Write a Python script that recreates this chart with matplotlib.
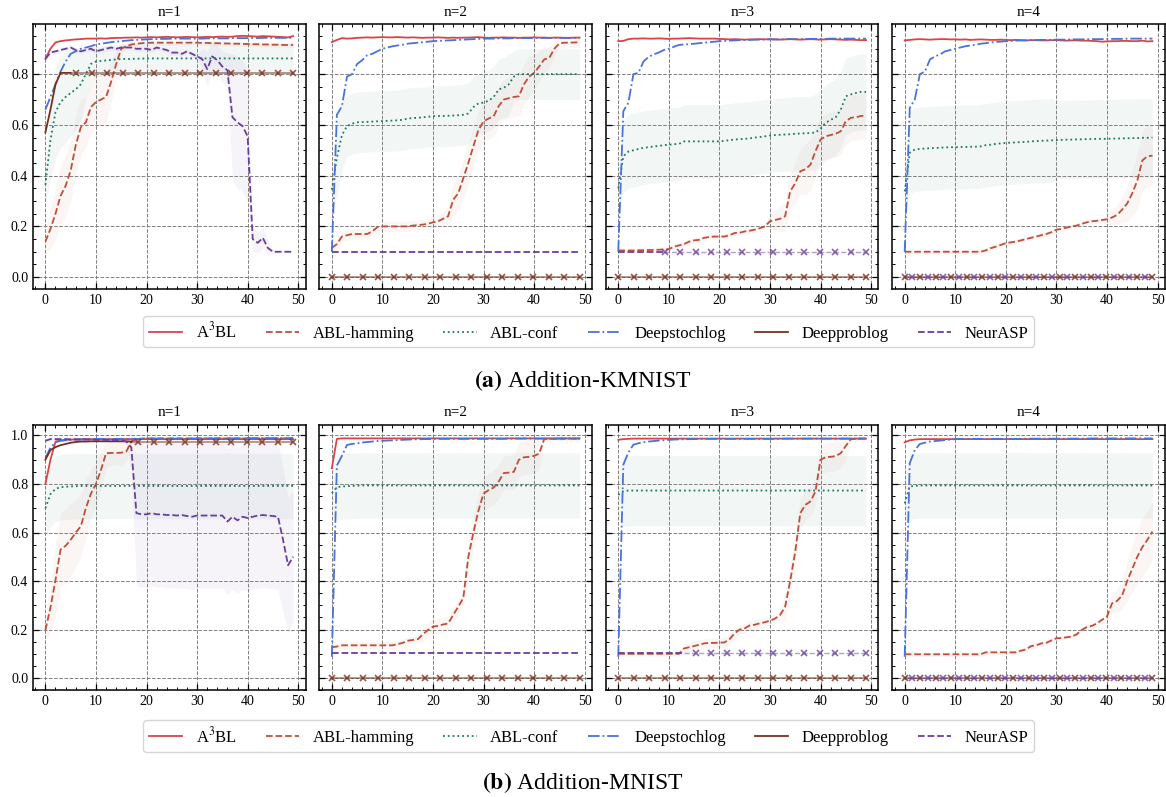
import numpy as np
import matplotlib
matplotlib.use("Agg")
import matplotlib.pyplot as plt
from matplotlib.lines import Line2D
from matplotlib.ticker import MultipleLocator, AutoMinorLocator

plt.rcParams["font.family"] = "serif"
plt.rcParams["font.serif"] = ["Liberation Serif", "DejaVu Serif"]
plt.rcParams["mathtext.fontset"] = "stix"

epochs = list(range(50))
n_values = [1, 2, 3, 4]
methods = ["A$^3$BL", "ABL-hamming", "ABL-conf", "Deepstochlog", "Deepproblog", "NeurASP"]

# ---------------- Addition-KMNIST ----------------
kmnist_n1_a3bl = [0.86, 0.90, 0.925, 0.93, 0.933, 0.935, 0.937, 0.938, 0.94, 0.94,
                  0.94, 0.941, 0.94, 0.942, 0.943, 0.943, 0.944, 0.944, 0.945, 0.944,
                  0.945, 0.946, 0.945, 0.946, 0.947, 0.946, 0.945, 0.946, 0.947, 0.946,
                  0.945, 0.946, 0.947, 0.946, 0.947, 0.948, 0.947, 0.948, 0.95, 0.951,
                  0.95, 0.949, 0.948, 0.95, 0.949, 0.948, 0.947, 0.946, 0.945, 0.95]
kmnist_n1_hamming = [0.14, 0.19, 0.25, 0.32, 0.36, 0.42, 0.52, 0.59, 0.61, 0.67,
                     0.69, 0.70, 0.71, 0.77, 0.84, 0.90, 0.91, 0.917, 0.92, 0.922,
                     0.923, 0.924, 0.924, 0.924, 0.924, 0.924, 0.924, 0.924, 0.924, 0.924,
                     0.924, 0.923, 0.923, 0.922, 0.922, 0.921, 0.921, 0.92, 0.92, 0.919,
                     0.919, 0.918, 0.918, 0.917, 0.917, 0.916, 0.916, 0.915, 0.915, 0.915]
kmnist_n1_conf = [0.364, 0.54, 0.65, 0.69, 0.71, 0.726, 0.74, 0.76, 0.80, 0.84,
                  0.85, 0.852, 0.854, 0.856, 0.858, 0.86, 0.86, 0.86, 0.861, 0.861] + [0.862] * 30
kmnist_n1_dsl = [0.66, 0.71, 0.76, 0.81, 0.85, 0.88, 0.89, 0.9, 0.905, 0.91,
                 0.917, 0.92, 0.923, 0.926, 0.928, 0.93, 0.932, 0.934, 0.935, 0.936,
                 0.937, 0.938, 0.938, 0.939, 0.939, 0.94, 0.94, 0.94, 0.94, 0.94,
                 0.94, 0.94, 0.941, 0.941, 0.941, 0.941, 0.941, 0.942, 0.942, 0.942,
                 0.942, 0.942, 0.942, 0.943, 0.943, 0.943, 0.943, 0.943, 0.943, 0.943]
kmnist_n1_dpl = [0.57, 0.66, 0.76, 0.805, 0.805, 0.805]
kmnist_n1_neurasp = [0.86, 0.885, 0.89, 0.895, 0.9, 0.905, 0.895, 0.89, 0.895, 0.9,
                     0.89, 0.895, 0.9, 0.905, 0.9, 0.905, 0.905, 0.905, 0.9, 0.9,
                     0.9, 0.895, 0.905, 0.9, 0.895, 0.885, 0.885, 0.88, 0.89, 0.88,
                     0.87, 0.86, 0.82, 0.87, 0.855, 0.83, 0.815, 0.63, 0.61, 0.595,
                     0.555, 0.15, 0.135, 0.155, 0.115, 0.1, 0.1, 0.1, 0.1, 0.1]
kmnist_n1_hamming_sd = [0.05, 0.08, 0.10, 0.12, 0.12, 0.12, 0.12, 0.11, 0.10, 0.10,
                        0.10, 0.10, 0.10, 0.08, 0.05, 0.02] + [0.01] * 34
kmnist_n1_conf_sd = [0.10, 0.15, 0.18, 0.18, 0.18, 0.17, 0.16, 0.14, 0.10, 0.07] + [0.06] * 40
kmnist_n1_neurasp_sd = [0.01] * 31 + [0.04, 0.07, 0.06, 0.06, 0.06, 0.07, 0.25, 0.26, 0.26,
                                      0.26, 0.05, 0.04, 0.04, 0.03, 0.01] + [0.005] * 4

kmnist_n2_a3bl = [0.926, 0.935, 0.942, 0.940, 0.941, 0.943, 0.944, 0.945, 0.944, 0.945,
                  0.946, 0.945, 0.945, 0.946, 0.945, 0.944, 0.945, 0.944, 0.943, 0.944,
                  0.944, 0.945, 0.944, 0.943, 0.944, 0.943, 0.944, 0.944, 0.945, 0.946,
                  0.944, 0.943, 0.944, 0.944, 0.945, 0.944, 0.944, 0.943, 0.944, 0.944,
                  0.945, 0.944, 0.944, 0.943, 0.944, 0.944, 0.943, 0.943, 0.944, 0.944]
kmnist_n2_hamming = [0.115, 0.13, 0.16, 0.165, 0.17, 0.17, 0.17, 0.17, 0.18, 0.197,
                     0.2, 0.2, 0.2, 0.2, 0.2, 0.2, 0.203, 0.205, 0.207, 0.21,
                     0.216, 0.22, 0.23, 0.24, 0.305, 0.33, 0.39, 0.45, 0.516, 0.58,
                     0.614, 0.625, 0.634, 0.674, 0.70, 0.705, 0.71, 0.713, 0.76, 0.79,
                     0.805, 0.83, 0.858, 0.864, 0.90, 0.921, 0.924, 0.924, 0.925, 0.925]
kmnist_n2_conf = [0.345, 0.47, 0.56, 0.595, 0.605, 0.61, 0.611, 0.612, 0.613, 0.614,
                  0.615, 0.616, 0.617, 0.618, 0.62, 0.625, 0.627, 0.628, 0.63, 0.632,
                  0.634, 0.635, 0.635, 0.636, 0.637, 0.638, 0.64, 0.645, 0.67, 0.685,
                  0.688, 0.695, 0.71, 0.74, 0.746, 0.76, 0.79] + [0.80] * 13
kmnist_n2_dsl = [0.10, 0.64, 0.674, 0.79, 0.80, 0.84, 0.855, 0.875, 0.88, 0.89,
                 0.90, 0.905, 0.91, 0.913, 0.916, 0.92, 0.922, 0.924, 0.926, 0.928,
                 0.93, 0.931, 0.932, 0.933, 0.934, 0.935, 0.936, 0.937, 0.938, 0.939,
                 0.94, 0.94, 0.94, 0.941, 0.941, 0.941, 0.942, 0.942, 0.942, 0.942,
                 0.942, 0.943, 0.943, 0.943, 0.943, 0.943, 0.943, 0.943, 0.943, 0.943]
kmnist_n2_dpl = [0.0]
kmnist_n2_neurasp = [0.1] * 50
kmnist_n2_hamming_sd = [0.02] * 22 + [0.03, 0.04, 0.06, 0.07, 0.08, 0.08, 0.08, 0.08, 0.08, 0.08,
                                      0.08, 0.08, 0.08, 0.08, 0.08, 0.08, 0.08, 0.08, 0.07, 0.06,
                                      0.05, 0.04, 0.03, 0.02] + [0.02] * 4
kmnist_n2_conf_sd = [0.10, 0.15, 0.14] + [0.12] * 33 + [0.10] * 14

kmnist_n3_a3bl = [0.930, 0.931, 0.938, 0.940, 0.940, 0.941, 0.940, 0.940, 0.941, 0.940,
                  0.939, 0.940, 0.940, 0.941, 0.942, 0.941, 0.940, 0.940, 0.940, 0.940,
                  0.939, 0.938, 0.937, 0.938, 0.937, 0.936, 0.937, 0.937, 0.938, 0.937,
                  0.938, 0.937, 0.936, 0.937, 0.938, 0.937, 0.936, 0.937, 0.938, 0.937,
                  0.936, 0.937, 0.938, 0.937, 0.936, 0.935, 0.936, 0.935, 0.934, 0.934]
kmnist_n3_hamming = [0.105, 0.105, 0.105, 0.105, 0.106, 0.106, 0.107, 0.107, 0.108, 0.109,
                     0.11, 0.12, 0.125, 0.13, 0.14, 0.145, 0.147, 0.155, 0.158, 0.16,
                     0.16, 0.16, 0.165, 0.174, 0.175, 0.18, 0.183, 0.187, 0.193, 0.2,
                     0.22, 0.225, 0.23, 0.24, 0.338, 0.37, 0.417, 0.425, 0.443, 0.496,
                     0.542, 0.555, 0.56, 0.565, 0.575, 0.614, 0.628, 0.63, 0.635, 0.637]
kmnist_n3_conf = [0.35, 0.476, 0.495, 0.50, 0.505, 0.51, 0.512, 0.515, 0.517, 0.52,
                  0.522, 0.524, 0.525, 0.535, 0.535, 0.535, 0.535, 0.535, 0.535, 0.535,
                  0.535, 0.537, 0.54, 0.542, 0.544, 0.545, 0.547, 0.55, 0.552, 0.555,
                  0.558, 0.56, 0.561, 0.562, 0.563, 0.565, 0.566, 0.567, 0.568, 0.57,
                  0.585, 0.608, 0.62, 0.63, 0.66, 0.713, 0.72, 0.726, 0.73, 0.73]
kmnist_n3_dsl = [0.10, 0.654, 0.687, 0.80, 0.805, 0.85, 0.868, 0.878, 0.885, 0.895,
                 0.90, 0.908, 0.915, 0.917, 0.918, 0.92, 0.922, 0.924, 0.926, 0.928,
                 0.93, 0.931, 0.932, 0.933, 0.934, 0.935, 0.935, 0.936, 0.936, 0.937,
                 0.937, 0.937, 0.937, 0.938, 0.938, 0.938, 0.938, 0.938, 0.939, 0.939,
                 0.939, 0.939, 0.94, 0.94, 0.94, 0.94, 0.94, 0.94, 0.94, 0.94]
kmnist_n3_dpl = [0.0]
kmnist_n3_neurasp = [0.1] * 10
kmnist_n3_hamming_sd = [0.01] * 30 + [0.03, 0.04, 0.05, 0.06, 0.07, 0.08, 0.09, 0.1, 0.1, 0.1] + [0.09] * 10
kmnist_n3_conf_sd = [0.10] + [0.145] * 38 + [0.15] * 11

kmnist_n4_a3bl = [0.933, 0.935, 0.937, 0.938, 0.937, 0.936, 0.937, 0.938, 0.938, 0.937,
                  0.937, 0.936, 0.937, 0.935, 0.936, 0.937, 0.936, 0.935, 0.935, 0.936,
                  0.935, 0.934, 0.935, 0.934, 0.933, 0.934, 0.934, 0.933, 0.933, 0.934,
                  0.934, 0.933, 0.932, 0.933, 0.933, 0.932, 0.932, 0.931, 0.93, 0.928,
                  0.929, 0.93, 0.93, 0.931, 0.931, 0.93, 0.93, 0.932, 0.929, 0.93]
kmnist_n4_hamming = [0.1] * 16 + [0.105, 0.114, 0.12, 0.127, 0.134, 0.137, 0.14, 0.145, 0.15, 0.155,
                                  0.16, 0.165, 0.17, 0.177, 0.187, 0.19, 0.195, 0.2, 0.203, 0.21,
                                  0.216, 0.22, 0.222, 0.225, 0.228, 0.235, 0.245, 0.266, 0.29, 0.33,
                                  0.38, 0.46, 0.476, 0.479]
kmnist_n4_conf = [0.338, 0.49, 0.503, 0.505, 0.507, 0.508, 0.509, 0.51, 0.511, 0.512,
                  0.512, 0.513, 0.513, 0.514, 0.514, 0.515, 0.52, 0.522, 0.525, 0.527,
                  0.529, 0.53, 0.531, 0.532, 0.533, 0.535, 0.536, 0.537, 0.538, 0.539,
                  0.54, 0.541, 0.542, 0.542, 0.543, 0.543, 0.544, 0.544, 0.545, 0.545,
                  0.545, 0.546, 0.546, 0.547, 0.547, 0.548, 0.548, 0.549, 0.549, 0.55]
kmnist_n4_dsl = [0.10, 0.667, 0.70, 0.80, 0.81, 0.858, 0.87, 0.878, 0.89, 0.895,
                 0.90, 0.905, 0.91, 0.913, 0.916, 0.92, 0.922, 0.925, 0.927, 0.928,
                 0.93, 0.931, 0.932, 0.933, 0.933, 0.934, 0.934, 0.935, 0.935, 0.935,
                 0.936, 0.936, 0.936, 0.937, 0.937, 0.937, 0.938, 0.938, 0.938, 0.938,
                 0.939, 0.939, 0.939, 0.939, 0.94, 0.94, 0.94, 0.94, 0.94, 0.94]
kmnist_n4_dpl = [0.0]
kmnist_n4_neurasp = [0.0]
kmnist_n4_hamming_sd = [0.01] * 40 + [0.02, 0.03, 0.04, 0.05, 0.07, 0.09, 0.11, 0.12, 0.12, 0.12]
kmnist_n4_conf_sd = [0.10] + [0.165] * 29 + [0.155] * 20

# ---------------- Addition-MNIST ----------------
mnist_n1_a3bl = [0.80, 0.90, 0.975, 0.98, 0.982, 0.983, 0.984, 0.984] + [0.985] * 42
mnist_n1_hamming = [0.198, 0.29, 0.404, 0.53, 0.545, 0.57, 0.6, 0.625, 0.70, 0.76,
                    0.80, 0.858, 0.927, 0.928, 0.928, 0.929, 0.934, 0.975, 0.985, 0.987] + [0.988] * 30
mnist_n1_conf = [0.70, 0.758, 0.78, 0.787, 0.789, 0.79, 0.791] + [0.792] * 43
mnist_n1_dsl = ([0.906, 0.95, 0.972, 0.978, 0.98, 0.982, 0.983, 0.984, 0.985, 0.985]
                + [0.986] * 10 + [0.987] * 10 + [0.988] * 10 + [0.989] * 9 + [0.99])
mnist_n1_dpl = [0.90, 0.94, 0.952, 0.96, 0.965, 0.97, 0.973, 0.975, 0.975, 0.976,
                0.976, 0.976, 0.976, 0.976, 0.976, 0.976, 0.976, 0.975]
mnist_n1_neurasp = [0.978, 0.985, 0.985, 0.985, 0.985, 0.984, 0.984, 0.983, 0.983, 0.983,
                    0.982, 0.982, 0.982, 0.981, 0.981, 0.98, 0.975, 0.95, 0.68, 0.675,
                    0.675, 0.68, 0.675, 0.675, 0.672, 0.672, 0.67, 0.672, 0.668, 0.665,
                    0.67, 0.67, 0.67, 0.67, 0.67, 0.67, 0.645, 0.665, 0.65, 0.665,
                    0.66, 0.665, 0.67, 0.672, 0.67, 0.668, 0.665, 0.57, 0.465, 0.5]
mnist_n1_hamming_sd = [0.05, 0.1, 0.15, 0.15, 0.15, 0.15, 0.14, 0.13, 0.12, 0.1,
                       0.09, 0.08, 0.06, 0.05, 0.05, 0.05, 0.04, 0.02] + [0.008] * 32
mnist_n1_conf_sd = [0.12] + [0.135] * 49
mnist_n1_neurasp_sd = [0.01] * 17 + [0.1] + [0.3] * 29 + [0.3, 0.28, 0.27]

mnist_n2_a3bl = [0.865, 0.986] + [0.988] * 48
mnist_n2_hamming = ([0.127, 0.13] + [0.135] * 11
                    + [0.14, 0.145, 0.154, 0.157, 0.16, 0.18, 0.198, 0.212, 0.215, 0.221,
                       0.225, 0.26, 0.294, 0.33, 0.5, 0.6, 0.69, 0.76, 0.775, 0.785,
                       0.81, 0.845, 0.847, 0.85, 0.9, 0.91, 0.912, 0.916, 0.925]
                    + [0.985, 0.986, 0.986] + [0.987] * 5)
mnist_n2_conf = [0.762, 0.787, 0.79, 0.791, 0.792, 0.793] + [0.794] * 44
mnist_n2_dsl = ([0.088, 0.876, 0.916, 0.961, 0.965, 0.968, 0.971, 0.973, 0.975, 0.977,
                 0.978, 0.979, 0.98, 0.981, 0.982, 0.983, 0.984, 0.984, 0.985, 0.985]
                + [0.986] * 15 + [0.987] * 15)
mnist_n2_dpl = [0.0]
mnist_n2_neurasp = [0.102] * 50
mnist_n2_hamming_sd = [0.015] * 18 + [0.03] * 9 + [0.07] * 15 + [0.01] * 8
mnist_n2_conf_sd = [0.10] + [0.135] * 49

mnist_n3_a3bl = [0.982, 0.985, 0.986] + [0.987] * 47
mnist_n3_hamming = [0.1] * 13 + [0.122, 0.127, 0.132, 0.137, 0.143, 0.145, 0.145, 0.146, 0.147, 0.16,
                                 0.184, 0.2, 0.205, 0.217, 0.22, 0.226, 0.23, 0.237, 0.245, 0.26,
                                 0.294, 0.4, 0.52, 0.68, 0.714, 0.728, 0.769, 0.9, 0.91, 0.912,
                                 0.915, 0.927, 0.957, 0.985, 0.986, 0.987, 0.987]
mnist_n3_conf = [0.755, 0.77] + [0.773] * 48
mnist_n3_dsl = ([0.088, 0.879, 0.93, 0.962, 0.968, 0.972, 0.975, 0.977, 0.979, 0.98,
                 0.982, 0.983, 0.984, 0.984, 0.985, 0.985] + [0.986] * 17 + [0.987] * 17)
mnist_n3_dpl = [0.0]
mnist_n3_neurasp = [0.102] * 14
mnist_n3_hamming_sd = [0.01] * 13 + [0.02] * 20 + [0.06] * 13 + [0.01] * 4
mnist_n3_conf_sd = [0.10] + [0.145] * 49

mnist_n4_a3bl = [0.972, 0.98, 0.983] + [0.985] * 47
mnist_n4_hamming = [0.098] * 16 + [0.106] * 7 + [0.113, 0.118, 0.132, 0.135, 0.143, 0.145, 0.155, 0.164,
                                                 0.165, 0.168, 0.171, 0.18, 0.198, 0.21, 0.215, 0.225,
                                                 0.24, 0.253, 0.308, 0.318, 0.34, 0.4, 0.45, 0.5,
                                                 0.54, 0.57, 0.604]
mnist_n4_conf = [0.72, 0.79, 0.792] + [0.794] * 47
mnist_n4_dsl = ([0.088, 0.886, 0.94, 0.965, 0.97, 0.975, 0.977, 0.979, 0.981, 0.983, 0.985]
                + [0.986] * 13 + [0.987] * 13 + [0.988] * 13)
mnist_n4_dpl = [0.0]
mnist_n4_neurasp = [0.0]
mnist_n4_hamming_sd = [0.01] * 40 + [0.03, 0.04, 0.05, 0.06, 0.08, 0.1, 0.11, 0.12, 0.12, 0.12]
mnist_n4_conf_sd = [0.10] + [0.135] * 49

# ---------------- styles ----------------
colors = {"A$^3$BL": "#d94545", "ABL-hamming": "#bf4f3a", "ABL-conf": "#1b7a63",
          "Deepstochlog": "#4872dc", "Deepproblog": "#76301c", "NeurASP": "#6a3f9c"}
styles = {"A$^3$BL": "-", "ABL-hamming": "--", "ABL-conf": ":",
          "Deepstochlog": "-.", "Deepproblog": "-", "NeurASP": "--"}

rows = [
    ("(a)", "Addition-KMNIST", (-0.048, 0.998), [
        (kmnist_n1_a3bl, kmnist_n1_hamming, kmnist_n1_conf, kmnist_n1_dsl, kmnist_n1_dpl, kmnist_n1_neurasp,
         kmnist_n1_hamming_sd, kmnist_n1_conf_sd, kmnist_n1_neurasp_sd),
        (kmnist_n2_a3bl, kmnist_n2_hamming, kmnist_n2_conf, kmnist_n2_dsl, kmnist_n2_dpl, kmnist_n2_neurasp,
         kmnist_n2_hamming_sd, kmnist_n2_conf_sd, None),
        (kmnist_n3_a3bl, kmnist_n3_hamming, kmnist_n3_conf, kmnist_n3_dsl, kmnist_n3_dpl, kmnist_n3_neurasp,
         kmnist_n3_hamming_sd, kmnist_n3_conf_sd, None),
        (kmnist_n4_a3bl, kmnist_n4_hamming, kmnist_n4_conf, kmnist_n4_dsl, kmnist_n4_dpl, kmnist_n4_neurasp,
         kmnist_n4_hamming_sd, kmnist_n4_conf_sd, None),
    ]),
    ("(b)", "Addition-MNIST", (-0.05, 1.044), [
        (mnist_n1_a3bl, mnist_n1_hamming, mnist_n1_conf, mnist_n1_dsl, mnist_n1_dpl, mnist_n1_neurasp,
         mnist_n1_hamming_sd, mnist_n1_conf_sd, mnist_n1_neurasp_sd),
        (mnist_n2_a3bl, mnist_n2_hamming, mnist_n2_conf, mnist_n2_dsl, mnist_n2_dpl, mnist_n2_neurasp,
         mnist_n2_hamming_sd, mnist_n2_conf_sd, None),
        (mnist_n3_a3bl, mnist_n3_hamming, mnist_n3_conf, mnist_n3_dsl, mnist_n3_dpl, mnist_n3_neurasp,
         mnist_n3_hamming_sd, mnist_n3_conf_sd, None),
        (mnist_n4_a3bl, mnist_n4_hamming, mnist_n4_conf, mnist_n4_dsl, mnist_n4_dpl, mnist_n4_neurasp,
         mnist_n4_hamming_sd, mnist_n4_conf_sd, None),
    ]),
]

marker_grid = np.linspace(0, 49, 17)
half_step = (marker_grid[1] - marker_grid[0]) / 2


def draw_panel(ax, panel):
    series = dict(zip(methods, panel[:6]))
    spreads = {"ABL-hamming": panel[6], "ABL-conf": panel[7], "NeurASP": panel[8]}
    x = np.array(epochs)

    for m, sd in spreads.items():
        if sd is None:
            continue
        v = np.array(series[m])
        ax.fill_between(x[:len(v)], v - np.array(sd[:len(v)]), v + np.array(sd[:len(v)]),
                        color=colors[m], alpha=0.055, lw=0)

    dpl_end = series["Deepproblog"][-1] if len(series["Deepproblog"]) < 50 else None
    for m in methods:
        v = series[m]
        ax.plot(x[:len(v)], v, color=colors[m], ls=styles[m], lw=1.3)
        if len(v) < 50:
            # run stopped: last value carried on with x markers
            stop = len(v) - 1
            offset = half_step if (m == "NeurASP" and v[-1] == dpl_end) else 0.0
            ax.plot([stop, 49], [v[-1], v[-1]], color=colors[m], ls=styles[m],
                    lw=1.4 if m == "Deepproblog" else 1.0, alpha=0.5)
            marks = [g + offset for g in marker_grid if stop <= g + offset <= 49]
            ax.plot(marks, [v[-1]] * len(marks), ls="none", marker="x", ms=4.5, mew=1.2,
                    color=colors[m], alpha=0.8)


fig = plt.figure(figsize=(11.66, 7.97), dpi=100)
row_boxes = [(0.970, 0.637), (0.467, 0.134)]
legend_y = [0.584, 0.0765]
caption_y = [0.522, 0.0176]

for r, (tag, name, ylim, panels) in enumerate(rows):
    top, bottom = row_boxes[r]
    gs = fig.add_gridspec(1, 4, left=0.0283, right=0.999, top=top, bottom=bottom, wspace=0.051)
    axes = gs.subplots(sharey=True)
    for i, ax in enumerate(axes):
        draw_panel(ax, panels[i])
        ax.set_title(f"n={n_values[i]}", fontsize=11, pad=6)
        ax.set_xlim(-2.45, 51.45)
        ax.set_ylim(*ylim)
        ax.xaxis.set_major_locator(MultipleLocator(10))
        ax.yaxis.set_major_locator(MultipleLocator(0.2))
        ax.xaxis.set_minor_locator(AutoMinorLocator())
        ax.yaxis.set_minor_locator(AutoMinorLocator())
        ax.tick_params(which="both", direction="in", top=True, right=True, labelsize=10)
        ax.tick_params(which="major", length=4, width=0.9)
        ax.tick_params(which="minor", length=2, width=0.7)
        ax.grid(True, which="major", ls="--", color="0.5", lw=0.7)
        for s in ax.spines.values():
            s.set_linewidth(1.1)
        if i > 0:
            ax.tick_params(labelleft=False)

    handles = [Line2D([0], [0], color=colors[m], ls=styles[m], lw=1.3) for m in methods]
    fig.legend(handles, methods, loc="center", bbox_to_anchor=(0.505, legend_y[r]), ncol=6,
               fontsize=12, frameon=True, fancybox=True, edgecolor="0.8",
               columnspacing=1.75, handlelength=2.0, borderpad=0.35)
    fig.text(0.5, caption_y[r], r"$\mathbf{" + tag + "}$ " + name, ha="center", va="center", fontsize=17)

fig.savefig("out.png", dpi=100)
